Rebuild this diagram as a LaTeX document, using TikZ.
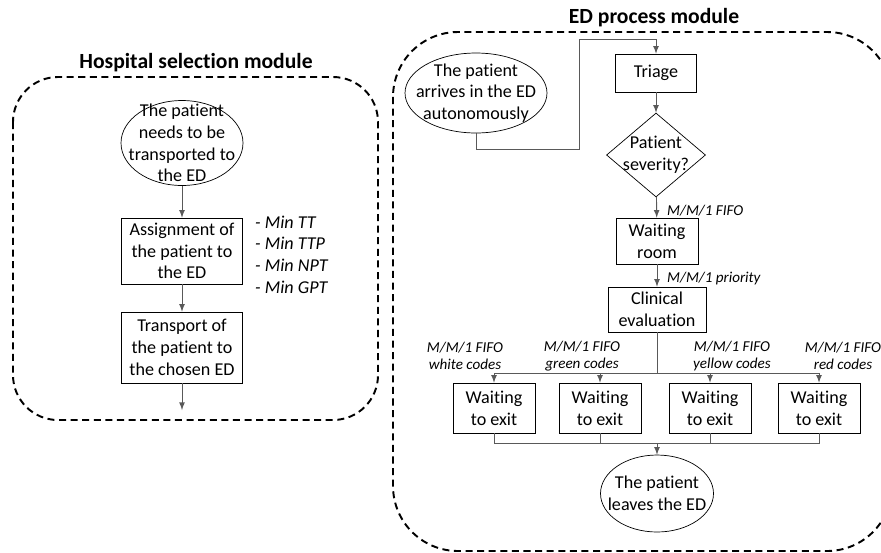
\documentclass[tikz,border=0pt]{standalone}
\usepackage{fontspec}
\setmainfont{Carlito}[Ligatures=NoCommon]
\usetikzlibrary{shapes.geometric}

\begin{document}
\begin{tikzpicture}[x=0.02cm, y=-0.02cm,
    every node/.style={font=\fontsize{10.3}{12.4}\selectfont, align=center},
    stage/.style={draw, thin, inner sep=1pt},
    oval/.style={draw, thin, ellipse, inner sep=0pt},
    module/.style={draw, line width=1.1pt, dash pattern=on 4pt off 2.6pt},
    conn/.style={draw=black!65, line width=0.5pt},
    queue/.style={font=\fontsize{8.6}{9.8}\selectfont\itshape}]
    \useasboundingbox (0,0) rectangle (881,552);

    % Hospital selection module
    \draw[module, rounded corners=0.9cm] (13,77) rectangle (378,420);
    \node[font=\fontsize{12.3}{14}\selectfont\bfseries] (hsm) at (196,63) {Hospital selection module};
    \node[oval, minimum width=2.44cm, minimum height=1.7cm,
        label={center:The patient\\needs to be\\transported to\\the ED}] (need) at (182,143) {};
    \node[stage, minimum width=2.42cm, minimum height=1.32cm] (assign) at (182,251) {Assignment of\\the patient to\\the ED};
    \node[stage, minimum width=2.42cm, minimum height=1.42cm] (transp) at (182,347.5) {Transport of\\the patient to\\the chosen ED};
    \node[anchor=west, align=left, font=\fontsize{10.3}{12.3}\selectfont\itshape] (crit) at (249,254.5)
        {- Min TT\\- Min TTP\\- Min NPT\\- Min GPT};
    \coordinate (hsmout) at (182,410);
    \draw[conn, -latex] (need) -- (assign);
    \draw[conn, -latex] (assign) -- (transp);
    \draw[conn, -latex] (transp) -- (hsmout);

    % ED process module
    \draw[module, rounded corners=1.3cm] (393,32) rectangle (892,551);
    \node[font=\fontsize{12.3}{14}\selectfont\bfseries] (edm) at (654,18) {ED process module};
    \node[oval, minimum width=2.84cm, minimum height=1.6cm,
        label={center:The patient\\arrives in the ED\\autonomously}] (arrive) at (476,93) {};
    \node[stage, minimum width=1.62cm, minimum height=0.76cm] (triage) at (656,73) {Triage};
    \node[diamond, draw, thin, inner sep=0pt, minimum width=1.98cm, minimum height=1.68cm,
        label={center:Patient\\severity?}] (sev) at (656,155) {};
    \node[stage, minimum width=1.64cm, minimum height=0.92cm] (wroom) at (657,241) {Waiting\\room};
    \node[stage, minimum width=1.96cm, minimum height=0.9cm] (clin) at (657,309.5) {Clinical\\evaluation};
    \node[stage, minimum width=1.64cm, minimum height=1cm] (ex1) at (494,408) {Waiting\\to exit};
    \node[stage, minimum width=1.64cm, minimum height=1cm] (ex2) at (600,408) {Waiting\\to exit};
    \node[stage, minimum width=1.64cm, minimum height=1cm] (ex3) at (710,408) {Waiting\\to exit};
    \node[stage, minimum width=1.64cm, minimum height=1cm] (ex4) at (819,408) {Waiting\\to exit};
    \node[oval, minimum width=2.26cm, minimum height=1.54cm,
        label={center:The patient\\leaves the ED}] (leave) at (657,493.5) {};

    % queue labels
    \node[queue, anchor=west] (qfifo) at (661,211) {M/M/1 FIFO};
    \node[queue, anchor=west] (qprio) at (661,279) {M/M/1 priority};
    \node[queue] (qwhite) at (465,356) {M/M/1 FIFO\\white codes};
    \node[queue] (qgreen) at (582,356) {M/M/1 FIFO\\green codes};
    \node[queue] (qyellow) at (732,356) {M/M/1 FIFO\\yellow codes};
    \node[queue] (qred) at (843,356) {M/M/1 FIFO\\red codes};

    \coordinate (entry) at (656,39);
    \coordinate (split) at (657,373);
    \coordinate (merge) at (657,443);
    \draw[conn, -latex] (arrive.south) |- (579,149) |- (entry) -- (triage.north);
    \draw[conn, -latex] (triage) -- (sev);
    \draw[conn, -latex] (sev) -- (wroom);
    \draw[conn, -latex] (wroom) -- (clin);
    \draw[conn] (clin) -- (split);
    \foreach \ex in {ex1,ex2,ex3,ex4}{
        \draw[conn, -latex] (split) -| (\ex.north);
        \draw[conn] (\ex.south) |- (merge);
    }
    \draw[conn, -latex] (merge) -- (leave);
\end{tikzpicture}
\end{document}
